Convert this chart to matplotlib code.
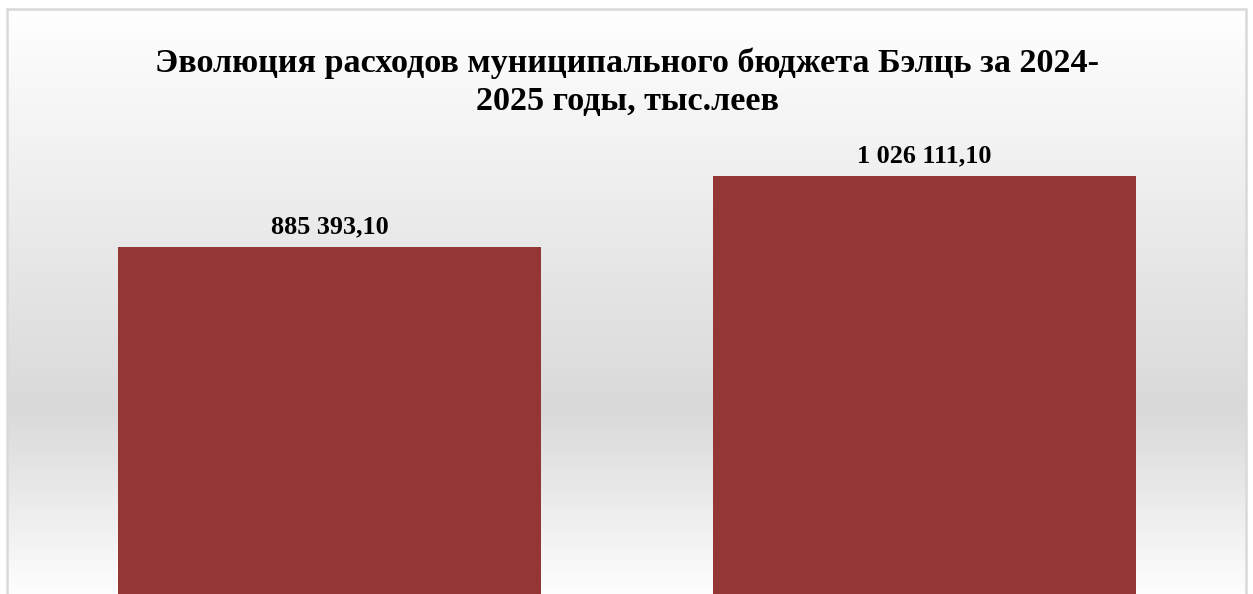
import matplotlib
matplotlib.use("Agg")
import matplotlib.pyplot as plt
import numpy as np
from matplotlib.patches import Rectangle

years = ["2024", "2025"]
values = [885393.10, 1026111.10]
labels = ["885 393,10", "1 026 111,10"]
title = "Эволюция расходов муниципального бюджета Бэлць за 2024-\n2025 годы, тыс.леев"

W, H = 1253, 594
fig = plt.figure(figsize=(W / 100, H / 100), dpi=100)
fig.patch.set_facecolor("white")

# background gradient
bg = fig.add_axes([7 / W, 0, (1246 - 7) / W, (H - 9) / H], zorder=0)
ys = np.arange(9, H + 1)
g = np.interp(ys, [9, 410, 600], [255, 217, 255]) / 255.0
img = np.repeat(g[:, None], 2, axis=1)
img = np.dstack([img, img, img])
bg.imshow(img, aspect="auto", extent=[0, 1, 0, 1], origin="upper")
bg.set_axis_off()
fig.patches.append(Rectangle((7 / W, -0.05), (1246 - 7) / W, (H - 9) / H + 0.05,
                             transform=fig.transFigure, fill=False,
                             edgecolor="#d9d9d9", linewidth=1.8, zorder=5))

# main axes: baseline (value 0) at pixel y=694 (below figure), top at pixel 130
base_px, top_px = 694, 130
ax = fig.add_axes([7 / W, (H - base_px) / H, (1246 - 7) / W, (base_px - top_px) / H], zorder=1)
ax.patch.set_alpha(0)
px_per_val = (base_px - 176) / values[1]
ymax = (base_px - top_px) / px_per_val
ax.set_ylim(0, ymax)
x = np.arange(len(years))
ax.set_xlim(-0.542, 1.540)
bars = ax.bar(x, values, width=0.711, color="#943634")
for xi, v, lab in zip(x, values, labels):
    ax.annotate(lab, (xi, v), xytext=(0, 10), textcoords="offset points",
                ha="center", va="baseline", fontsize=18.8, fontweight="bold",
                family="Liberation Serif")
ax.set_axis_off()

fig.text(627 / W, 1 - 82.5 / H, title, ha="center", va="center", fontsize=24.6,
         fontweight="bold", family="Liberation Serif", linespacing=1.3)

fig.savefig("out.png", dpi=100)
